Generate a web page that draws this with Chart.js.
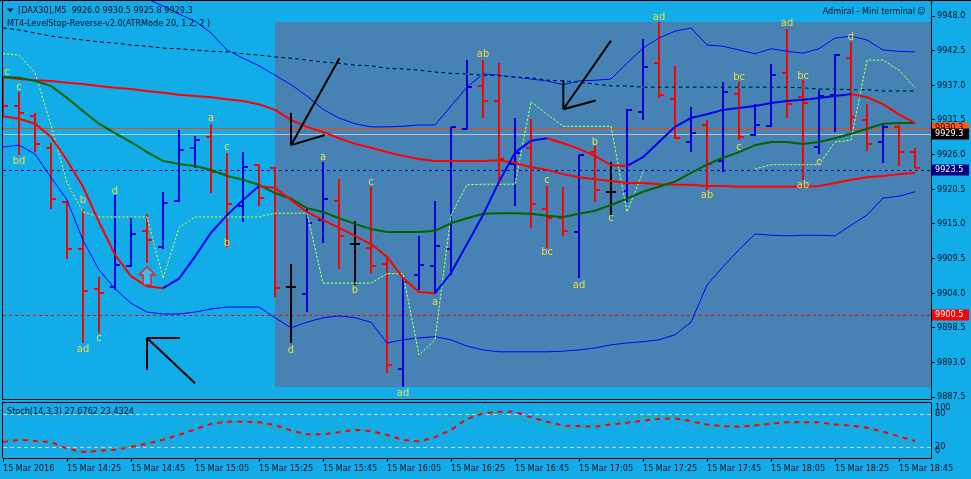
<!DOCTYPE html>
<html>
<head>
<meta charset="utf-8">
<title>DAX30 M5</title>
<script src="https://cdn.jsdelivr.net/npm/chart.js@4.4.1/dist/chart.umd.min.js"></script>
<style>
  html, body { margin: 0; padding: 0; background: #12ace9; overflow: hidden; }
  #wrap { position: relative; width: 971px; height: 479px; }
  #mainChart { position: absolute; left: 0; top: 0; }
  #stochChart { position: absolute; left: 0; top: 401px; }
</style>
</head>
<body>
<div id="wrap">
  <canvas id="mainChart" width="971" height="401"></canvas>
  <canvas id="stochChart" width="971" height="78"></canvas>
</div>
<script>
// ---- bars (M5, one per index, 14:05 .. 18:50) ----
const opens = [9937.8, 9933.7, 9932.1, 9927.1, 9918.5, 9911.0, 9904.7, 9905.0, 9908.3, 9913.9,
  9911.3, 9918.6, 9927.1, 9928.8, 9922.9, 9917.8, 9924.3, 9923.9, 9905.0, 9903.9,
  9915.6, 9918.6, 9911.8, 9911.2, 9908.6, 9892.0, 9906.9, 9908.3, 9911.0, 9930.1,
  9936.9, 9934.5, 9924.5, 9927.1, 9917.4, 9915.9, 9913.7, 9926.4, 9920.1, 9920.2,
  9932.8, 9940.5, 9934.8, 9928.0, 9930.7, 9925.0, 9935.6, 9929.1, 9930.5, 9939.0,
  9935.1, 9927.2, 9935.5, 9941.3, 9931.5, 9928.0, 9930.4, 9926.4];
const highs = [9938.5, 9935.9, 9932.6, 9927.8, 9918.6, 9917.4, 9906.6, 9919.6, 9916.1, 9916.6,
  9920.1, 9929.9, 9929.0, 9930.9, 9926.3, 9926.4, 9924.4, 9924.0, 9908.6, 9917.5,
  9924.8, 9922.1, 9915.5, 9920.9, 9909.9, 9906.6, 9913.1, 9918.6, 9930.4, 9941.0,
  9941.0, 9940.5, 9931.8, 9931.6, 9921.0, 9920.9, 9925.9, 9927.4, 9924.8, 9933.2,
  9944.4, 9947.0, 9940.1, 9933.6, 9931.5, 9937.5, 9937.5, 9934.0, 9940.4, 9945.9,
  9937.8, 9936.3, 9942.0, 9943.9, 9934.0, 9930.7, 9930.7, 9927.0];
const lows = [9931.8, 9925.9, 9926.4, 9917.4, 9909.4, 9896.1, 9897.7, 9904.5, 9908.2, 9908.8,
  9911.0, 9918.5, 9923.9, 9919.9, 9911.3, 9915.3, 9917.8, 9903.4, 9896.1, 9901.0,
  9912.0, 9907.8, 9905.3, 9907.2, 9891.3, 9889.1, 9904.5, 9903.9, 9906.9, 9930.1,
  9931.8, 9921.0, 9917.8, 9914.3, 9911.2, 9913.1, 9906.4, 9918.5, 9916.3, 9918.5,
  9931.5, 9935.0, 9928.5, 9926.4, 9920.4, 9923.2, 9928.3, 9929.0, 9930.4, 9931.8,
  9922.0, 9926.1, 9929.6, 9929.7, 9926.6, 9924.7, 9924.2, 9923.9];
const closes = [9933.7, 9932.6, 9927.7, 9919.0, 9911.0, 9904.4, 9904.0, 9908.5, 9913.4, 9912.4,
  9918.3, 9926.7, 9928.3, 9923.2, 9918.2, 9924.0, 9919.1, 9904.8, 9905.0, 9915.1,
  9919.0, 9913.1, 9911.8, 9908.3, 9892.6, 9905.8, 9908.5, 9911.5, 9930.4, 9936.7,
  9934.5, 9925.3, 9926.3, 9918.2, 9915.9, 9913.9, 9925.9, 9920.4, 9920.1, 9933.1,
  9939.9, 9935.5, 9928.6, 9929.4, 9924.5, 9935.9, 9928.8, 9930.7, 9938.6, 9934.0,
  9934.2, 9935.3, 9941.8, 9932.0, 9927.7, 9930.4, 9926.4, 9923.9];

// ---- indicator lines ----
const slowMA = [9938.3, 9938.0, 9937.8, 9937.7, 9937.4, 9937.2, 9936.9, 9936.6, 9936.4, 9936.1,
  9935.8, 9935.5, 9935.3, 9935.1, 9934.8, 9934.5, 9934.0, 9933.1, 9931.5, 9930.4,
  9929.6, 9928.6, 9927.7, 9927.1, 9926.4, 9925.8, 9925.3, 9925.0, 9925.0, 9925.0,
  9925.0, 9925.1, 9924.7, 9924.0, 9923.6, 9922.9, 9922.4, 9922.1, 9921.8, 9921.5,
  9921.5, 9921.3, 9921.2, 9921.2, 9921.0, 9921.0, 9920.9, 9920.9, 9920.9, 9920.9,
  9920.9, 9921.0, 9921.5, 9922.0, 9922.4, 9922.6, 9922.9, 9923.1];
const greenMA = [9938.3, 9938.2, 9937.7, 9936.9, 9935.0, 9932.9, 9930.9, 9929.4, 9928.0, 9926.4,
  9925.0, 9924.5, 9924.2, 9923.6, 9922.6, 9922.0, 9921.2, 9919.9, 9919.0, 9917.5,
  9916.9, 9915.9, 9915.0, 9914.2, 9913.7, 9913.7, 9913.7, 9913.9, 9915.1, 9915.9,
  9916.6, 9916.7, 9916.7, 9916.6, 9916.3, 9916.1, 9916.6, 9917.1, 9918.0, 9919.0,
  9920.1, 9920.9, 9921.7, 9923.1, 9924.4, 9925.5, 9926.4, 9927.5, 9928.0, 9928.0,
  9927.7, 9928.0, 9928.6, 9929.3, 9930.1, 9930.9, 9931.0, 9931.0];
const fastMA = [9932.1, 9931.7, 9930.9, 9928.8, 9925.1, 9920.9, 9915.3, 9910.1, 9906.7, 9905.1,
  9904.8, 9906.3, 9909.8, 9913.6, 9916.4, 9918.8, 9921.0, 9920.7, 9918.8, 9916.9,
  9915.6, 9914.4, 9913.1, 9911.8, 9909.8, 9906.4, 9904.2, 9904.0, 9907.2, 9911.8,
  9916.4, 9921.7, 9926.3, 9928.2, 9928.6, 9927.8, 9926.9, 9925.8, 9924.3, 9924.2,
  9925.6, 9928.0, 9930.4, 9931.8, 9932.4, 9933.1, 9933.4, 9933.7, 9934.2, 9934.5,
  9934.7, 9935.0, 9935.3, 9935.6, 9935.1, 9934.0, 9932.4, 9931.0];
const upperBand = [9956.9, 9956.3, 9955.6, 9954.8, 9954.0, 9953.4, 9952.8, 9952.1, 9951.5, 9950.7,
  9949.6, 9948.3, 9947.2, 9945.3, 9942.6, 9941.3, 9940.1, 9938.6, 9937.1, 9935.3,
  9933.2, 9931.8, 9930.9, 9930.4, 9930.4, 9930.5, 9930.7, 9930.7, 9933.7, 9936.7,
  9938.8, 9938.6, 9938.3, 9938.0, 9937.7, 9937.1, 9937.7, 9937.8, 9938.0, 9940.5,
  9942.9, 9944.5, 9945.6, 9946.1, 9943.4, 9943.2, 9942.6, 9942.0, 9942.8, 9942.4,
  9942.1, 9942.8, 9944.5, 9944.8, 9944.2, 9942.6, 9942.4, 9942.3];
const lowerBand = [9927.2, 9927.5, 9926.1, 9922.4, 9918.8, 9912.4, 9907.7, 9904.7, 9902.4, 9901.0,
  9900.7, 9900.7, 9901.0, 9901.5, 9901.8, 9901.8, 9901.8, 9900.1, 9898.5, 9899.4,
  9900.1, 9900.4, 9900.1, 9899.4, 9896.1, 9896.6, 9896.9, 9897.1, 9896.6, 9895.6,
  9895.0, 9894.7, 9894.7, 9894.7, 9894.7, 9894.8, 9895.0, 9895.3, 9895.8, 9896.1,
  9896.3, 9896.6, 9897.4, 9899.4, 9905.3, 9908.2, 9910.9, 9913.4, 9913.2, 9913.1,
  9913.2, 9913.2, 9913.1, 9914.8, 9916.4, 9919.1, 9919.4, 9920.1];
const trendLine = [9946.1, 9945.8, 9945.3, 9944.8, 9944.5, 9944.2, 9943.9, 9943.7, 9943.4, 9943.2,
  9942.9, 9942.8, 9942.6, 9942.4, 9942.3, 9942.0, 9941.8, 9941.5, 9941.3, 9941.0,
  9940.7, 9940.5, 9940.2, 9940.1, 9939.7, 9939.6, 9939.4, 9939.1, 9938.9, 9938.8,
  9938.6, 9938.5, 9938.3, 9938.2, 9937.8, 9937.7, 9937.5, 9937.2, 9936.9, 9936.9,
  9936.7, 9936.7, 9936.7, 9936.7, 9936.7, 9936.7, 9936.7, 9936.7, 9936.7, 9936.7,
  9936.6, 9936.4, 9936.4, 9936.3, 9936.3, 9936.1, 9936.1, 9936.1];
const stopLine = [9942.0, 9941.8, 9939.0, 9930.7, 9921.5, 9916.9, 9916.1, 9916.1, 9916.1, 9916.1,
  9906.4, 9914.4, 9916.1, 9916.1, 9916.1, 9916.1, 9916.1, 9916.7, 9916.7, 9916.7,
  9905.6, 9905.6, 9905.6, 9905.6, 9907.1, 9907.1, 9894.2, 9896.6, 9916.4, 9921.2,
  9921.3, 9921.3, 9921.3, 9934.4, 9932.4, 9930.5, 9930.5, 9930.5, 9930.5, 9916.9,
  9923.2, null, null, null, null, null, null, 9923.7, 9924.4, 9924.4,
  9924.4, 9924.4, 9928.0, 9928.3, 9941.0, 9941.0, 9939.4, 9936.6];

// ---- stochastic (14,3,3) ----
const stochK = [33, 36, 32, 27, 10, 12, 15, 18, 23, 31, 37, 51, 66, 70, 69, 66, 60, 55, 45, 35,
  48, 55, 53, 47, 30, 28, 32, 48, 64, 82, 87, 80, 72, 66, 59, 52, 56, 60, 65, 70,
  75, 76, 74, 62, 53, 57, 60, 63, 66, 65, 64, 56, 63, 60, 56, 36, 30, 26];
const stochD = [29, 33, 31, 29, 17, 11, 13, 15, 20, 26, 33, 42, 52, 62, 66, 66, 65, 60, 50, 43,
  43, 47, 51, 49, 42, 33, 30, 38, 51, 71, 81, 84, 84, 74, 66, 59, 58, 57, 61, 64,
  68, 71, 72, 67, 61, 58, 57, 59, 62, 65, 65, 65, 61, 59, 55, 48, 39, 31];
const stochLevels = [80, 20];

// ---- axes ----
const priceTicks = [9887.5, 9893.0, 9898.5, 9904.0, 9909.5, 9915.0, 9920.5, 9926.0, 9931.5, 9937.0, 9942.5, 9948.0];
const timeTicks = [0, 4, 8, 12, 16, 20, 24, 28, 32, 36, 40, 44, 48, 52, 56];
const timeLabels = ["15 Mar 2016", "15 Mar 14:25", "15 Mar 14:45", "15 Mar 15:05", "15 Mar 15:25",
  "15 Mar 15:45", "15 Mar 16:05", "15 Mar 16:25", "15 Mar 16:45", "15 Mar 17:05", "15 Mar 17:25",
  "15 Mar 17:45", "15 Mar 18:05", "15 Mar 18:25", "15 Mar 18:45"];

// ---- objects on the chart ----
const levelPrices = [9930.3, 9929.3, 9923.5, 9900.5];
const levelText = ["9930.3", "9929.3", "9923.5", "9900.5"];
const shadeBox = [17, 9947.05, 58.5, 9889.1];  // from index, price -> to index, price
const arrowLines = [
  [21.03, 9941.3, 18, 9927.5], [18, 9927.5, 18, 9932.6], [18, 9927.5, 20.12, 9929.1],
  [38.0, 9944.1, 35.02, 9933.2], [35.02, 9933.2, 35.02, 9937.8], [35.02, 9933.2, 37.04, 9934.6],
  [12, 9889.7, 9, 9896.9], [9, 9896.9, 9, 9891.8], [9, 9896.9, 11.06, 9896.9]
];
const buyArrow = [9, 9908.2, 9905.3];   // index, tip price, base price
const zigzagLabels = [
  [0.25, 9939.1, "c"], [1, 9936.7, "c"], [1, 9925.0, "bd"], [5, 9918.8, "b"], [5, 9895.1, "ad"],
  [6, 9896.9, "c"], [7, 9920.2, "d"], [13, 9931.8, "a"], [14, 9927.2, "c"], [14, 9912.0, "b"],
  [18, 9895.0, "d"], [20, 9925.6, "a"], [22, 9904.5, "b"], [23, 9921.7, "c"], [25, 9888.2, "ad"],
  [27, 9902.6, "a"], [30, 9942.0, "ab"], [34, 9922.0, "c"], [34, 9910.5, "bc"], [36, 9905.3, "ad"],
  [37, 9928.0, "b"], [38, 9915.9, "c"], [41, 9947.8, "ad"], [44, 9919.6, "ab"], [46, 9938.3, "bc"],
  [46, 9927.2, "c"], [49, 9946.9, "ad"], [50, 9938.5, "bc"], [50, 9921.2, "ab"], [51, 9924.8, "c"],
  [53, 9944.7, "d"]
];

const FONT = "'DejaVu Sans Condensed', 'DejaVu Sans', sans-serif";
const BG = "#12ace9";
const INK = "#0a0f24";

const pts = arr => arr.map((v, i) => ({ x: i, y: v }));

function line(ctx, x0, y0, x1, y1) {
  ctx.beginPath();
  ctx.moveTo(x0, y0);
  ctx.lineTo(x1, y1);
  ctx.stroke();
}

const mainDecor = {
  id: "mainDecor",
  beforeDraw(chart) {
    const { ctx, width, height } = chart;
    ctx.save();
    ctx.fillStyle = BG;
    ctx.fillRect(0, 0, width, height);
    ctx.restore();
  },
  beforeDatasetsDraw(chart) {
    const { ctx, chartArea: a, scales: { x, y } } = chart;
    ctx.save();
    ctx.beginPath();
    ctx.rect(a.left, a.top, a.right - a.left, a.bottom - a.top);
    ctx.clip();

    // shaded rectangle
    const bx0 = x.getPixelForValue(shadeBox[0]), bx1 = x.getPixelForValue(shadeBox[2]);
    const by0 = y.getPixelForValue(shadeBox[1]), by1 = y.getPixelForValue(shadeBox[3]);
    ctx.fillStyle = "#4682b4";
    ctx.fillRect(bx0, by0, bx1 - bx0, by1 - by0);

    // price lines
    const colors = ["#ff4500", "#c0c0c0", "#00008b", "#ff0000"];
    ctx.lineWidth = 1;
    levelPrices.forEach((p, i) => {
      const yy = Math.round(y.getPixelForValue(p)) + 0.5;
      if (i === 2) {
        ctx.setLineDash([]);
        ctx.strokeStyle = BG;
        line(ctx, a.left, yy, a.right, yy);
      }
      ctx.setLineDash(i >= 2 ? [3, 3] : []);
      ctx.strokeStyle = colors[i];
      line(ctx, a.left, yy, a.right, yy);
    });
    ctx.setLineDash([]);

    // OHLC bars
    ctx.lineWidth = 2;
    for (let i = 0; i < opens.length; i++) {
      const cx = Math.round(x.getPixelForValue(i));
      ctx.strokeStyle = closes[i] > opens[i] ? "#0000d8" : closes[i] < opens[i] ? "#ff0000" : "#000000";
      const yo = Math.round(y.getPixelForValue(opens[i]));
      const yc = Math.round(y.getPixelForValue(closes[i]));
      ctx.beginPath();
      ctx.moveTo(cx, Math.round(y.getPixelForValue(highs[i])));
      ctx.lineTo(cx, Math.round(y.getPixelForValue(lows[i])));
      ctx.moveTo(cx - 5, yo);
      ctx.lineTo(cx, yo);
      ctx.moveTo(cx, yc);
      ctx.lineTo(cx + 5, yc);
      ctx.stroke();
    }
    ctx.restore();
  },
  afterDatasetsDraw(chart) {
    const { ctx, scales: { x, y } } = chart;
    ctx.save();
    // drawn trend arrows
    ctx.strokeStyle = "#000";
    ctx.lineWidth = 2;
    arrowLines.forEach(s => line(ctx, x.getPixelForValue(s[0]), y.getPixelForValue(s[1]),
      x.getPixelForValue(s[2]), y.getPixelForValue(s[3])));

    // hollow buy arrow
    const ax = x.getPixelForValue(buyArrow[0]);
    const at = y.getPixelForValue(buyArrow[1]), ab = y.getPixelForValue(buyArrow[2]);
    ctx.beginPath();
    ctx.moveTo(ax, at);
    ctx.lineTo(ax + 8, at + 8);
    ctx.lineTo(ax + 4, at + 8);
    ctx.lineTo(ax + 4, ab);
    ctx.lineTo(ax - 4, ab);
    ctx.lineTo(ax - 4, at + 8);
    ctx.lineTo(ax - 8, at + 8);
    ctx.closePath();
    ctx.fillStyle = "#3fbcee";
    ctx.fill();
    ctx.strokeStyle = "#e8202a";
    ctx.lineWidth = 1.5;
    ctx.stroke();

    // zigzag letters
    ctx.font = "11px " + FONT;
    ctx.fillStyle = "#eedd44";
    ctx.textAlign = "center";
    ctx.textBaseline = "middle";
    zigzagLabels.forEach(l => ctx.fillText(l[2], x.getPixelForValue(l[0]), y.getPixelForValue(l[1])));
    ctx.restore();
  },
  afterDraw(chart) {
    const { ctx, chartArea: a, scales: { y }, width } = chart;
    ctx.save();
    ctx.font = "9px " + FONT;
    ctx.textBaseline = "middle";
    ctx.fillStyle = INK;
    ctx.beginPath();
    ctx.moveTo(7, 8.5); ctx.lineTo(13.5, 8.5); ctx.lineTo(10.25, 12.5);
    ctx.closePath();
    ctx.fill();
    ctx.textAlign = "left";
    ctx.fillText("[DAX30],M5  9926.0 9930.5 9925.8 9929.3", 18, 10.5);
    ctx.fillText("MT4-LevelStop-Reverse-v2.0(ATRMode 20, 1.2, 2 )", 7, 24);
    ctx.textAlign = "right";
    ctx.fillText("Admiral - Mini terminal \u263A", 926, 12);

    // value boxes on the price axis
    const boxFill = ["#ff5a14", "#000000", "#000080", "#ff0000"];
    const boxInk = ["#3a0000", "#ffffff", "#ffffff", "#ffffff"];
    ctx.textAlign = "left";
    levelPrices.forEach((p, i) => {
      const yy = Math.round(y.getPixelForValue(p));
      ctx.fillStyle = boxFill[i];
      ctx.fillRect(a.right + 1, yy - 5.5, 37, 11);
      ctx.fillStyle = boxInk[i];
      ctx.fillText(levelText[i], a.right + 4, yy);
    });

    // panel frame
    ctx.strokeStyle = "#000";
    ctx.lineWidth = 1;
    line(ctx, 0, 0.5, width, 0.5);
    line(ctx, 2.5, 0, 2.5, a.bottom + 1);
    line(ctx, 2, a.bottom + 0.5, a.right, a.bottom + 0.5);
    ctx.restore();
  }
};

const stochDecor = {
  id: "stochDecor",
  beforeDraw(chart) {
    const { ctx, width, height } = chart;
    ctx.save();
    ctx.fillStyle = BG;
    ctx.fillRect(0, 0, width, height);
    ctx.restore();
  },
  beforeDatasetsDraw(chart) {
    const { ctx, chartArea: a, scales: { y } } = chart;
    ctx.save();
    ctx.strokeStyle = "#d0d0d0";
    ctx.lineWidth = 1;
    ctx.setLineDash([4, 3]);
    stochLevels.forEach(v => {
      const yy = Math.round(y.getPixelForValue(v)) + 0.5;
      line(ctx, a.left, yy, a.right, yy);
    });
    ctx.restore();
  },
  afterDraw(chart) {
    const { ctx, chartArea: a, scales: { y } } = chart;
    ctx.save();
    ctx.font = "9px " + FONT;
    ctx.fillStyle = INK;
    ctx.textBaseline = "middle";
    ctx.textAlign = "left";
    ctx.fillText("Stoch(14,3,3) 27.6762 23.4324", 7, 10.5);
    ctx.fillText("100", a.right + 4, y.getPixelForValue(100) + 5);
    ctx.fillText("80", a.right + 4, y.getPixelForValue(80));
    ctx.fillText("20", a.right + 4, y.getPixelForValue(20));
    ctx.fillText("0", a.right + 4, y.getPixelForValue(0) - 7);
    ctx.strokeStyle = "#000";
    ctx.lineWidth = 1;
    line(ctx, 2, 1.5, a.right, 1.5);
    line(ctx, 2.5, 1, 2.5, a.bottom);
    ctx.restore();
  }
};

Chart.defaults.font.family = FONT;

new Chart(document.getElementById("mainChart"), {
  type: "line",
  data: {
    datasets: [
      { data: pts(fastMA), borderWidth: 2, order: 0,
        segment: { borderColor: c => c.p1.parsed.y >= c.p0.parsed.y ? "#0000f0" : "#ff0000" } },
      { data: pts(greenMA), borderColor: "#006400", borderWidth: 2, order: 1 },
      { data: pts(slowMA), borderColor: "#ff0000", borderWidth: 2, order: 2 },
      { data: pts(stopLine), borderColor: "#ffff00", borderWidth: 1, borderDash: [2, 2], order: 3 },
      { data: pts(stopLine), borderColor: BG, borderWidth: 1, order: 4 },
      { data: pts(trendLine), borderColor: "#000000", borderWidth: 1, borderDash: [4, 3], order: 5 },
      { data: pts(trendLine), borderColor: BG, borderWidth: 1, order: 6 },
      { data: pts(upperBand), borderColor: "#0000ff", borderWidth: 1, order: 7 },
      { data: pts(lowerBand), borderColor: "#0000ff", borderWidth: 1, order: 8 }
    ]
  },
  options: {
    responsive: false,
    animation: false,
    events: [],
    layout: { padding: { left: 3, top: 1, right: 0, bottom: 2 } },
    elements: { point: { radius: 0 }, line: { tension: 0 } },
    plugins: { legend: { display: false }, tooltip: { enabled: false } },
    scales: {
      x: { type: "linear", min: 0, max: 58, display: false },
      y: {
        position: "right",
        min: 9887.206,
        max: 9950.381,
        grid: { drawOnChartArea: false, tickLength: 4, color: "#000" },
        border: { color: "#000" },
        ticks: { color: INK, font: { family: FONT, size: 9 }, padding: 2, autoSkip: false,
          callback: v => v.toFixed(1) },
        afterBuildTicks: s => { s.ticks = priceTicks.map(v => ({ value: v })); },
        afterFit: s => { s.width = 40; s.paddingTop = 0; s.paddingBottom = 0; }
      }
    }
  },
  plugins: [mainDecor]
});

new Chart(document.getElementById("stochChart"), {
  type: "line",
  data: {
    datasets: [
      { data: pts(stochD), borderColor: "#ff0000", borderWidth: 2, borderDash: [5, 5], order: 0 },
      { data: pts(stochK), borderColor: "#22b08c", borderWidth: 1, order: 1 }
    ]
  },
  options: {
    responsive: false,
    animation: false,
    events: [],
    layout: { padding: { left: 3, top: 2, right: 0, bottom: 0 } },
    elements: { point: { radius: 0 }, line: { tension: 0 } },
    plugins: { legend: { display: false }, tooltip: { enabled: false } },
    scales: {
      x: {
        type: "linear",
        min: 0,
        max: 58,
        position: "bottom",
        grid: { drawOnChartArea: false, tickLength: 4, color: "#000" },
        border: { color: "#000" },
        ticks: { align: "start", maxRotation: 0, minRotation: 0, autoSkip: false, color: INK,
          font: { family: FONT, size: 9 }, padding: 1,
          callback: (v, i) => timeLabels[i] },
        afterBuildTicks: s => { s.ticks = timeTicks.map(v => ({ value: v })); },
        afterFit: s => { s.height = 21; s.paddingLeft = 0; s.paddingRight = 0; }
      },
      y: {
        position: "right",
        min: 0,
        max: 100,
        grid: { display: false },
        border: { color: "#000" },
        ticks: { display: false },
        afterFit: s => { s.width = 40; s.paddingTop = 0; s.paddingBottom = 0; }
      }
    }
  },
  plugins: [stochDecor]
});
</script>
</body>
</html>
